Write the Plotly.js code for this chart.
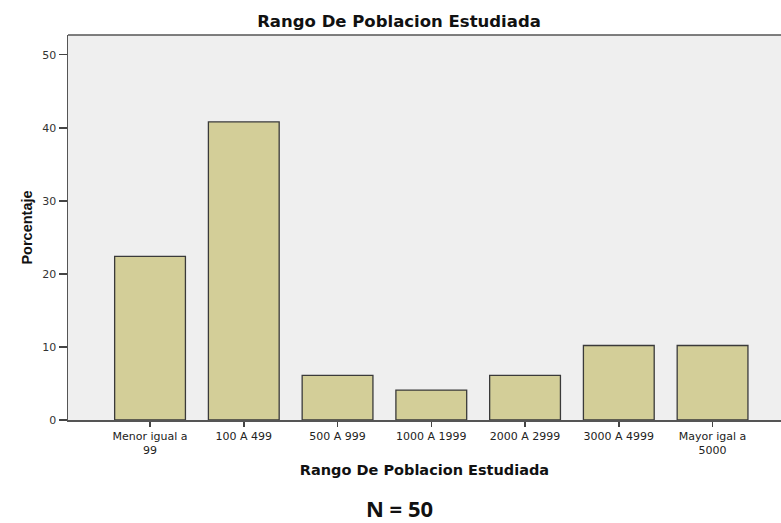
<!DOCTYPE html>
<html>
<head>
<meta charset="utf-8">
<script src="https://cdn.plot.ly/plotly-3.0.1.min.js"></script>
<style>html,body{margin:0;padding:0;background:#fff;}#chart{width:781px;height:523px;}</style>
</head>
<body>
<div id="chart"></div>
<script>
const categories = ["Menor igual a 99", "100 A 499", "500 A 999", "1000 A 1999", "2000 A 2999", "3000 A 4999", "Mayor igal a 5000"];
const tickLabels = ["Menor igual a<br>99", "100 A 499", "500 A 999", "1000 A 1999", "2000 A 2999", "3000 A 4999", "Mayor igal a<br>5000"];
const percentages = [22.4, 40.8, 6.1, 4.1, 6.1, 10.2, 10.2];
const yTicks = [0, 10, 20, 30, 40, 50];

const idx = categories.map((c, i) => i);

const trace = {
  type: "bar",
  x: idx,
  y: percentages,
  width: 0.755,
  marker: {color: "#d3ce98", line: {color: "#3a3a3a", width: 1.3}},
  hoverinfo: "x+y"
};

const layout = {
  width: 781, height: 523,
  margin: {l: 68, r: 0, t: 35, b: 103},
  paper_bgcolor: "#ffffff",
  plot_bgcolor: "#efefef",
  showlegend: false,
  title: {
    text: "<b>Rango De Poblacion Estudiada</b>",
    font: {family: "DejaVu Sans, sans-serif", size: 16.5, color: "#111"},
    x: (399 - 68) / 713, xanchor: "center", xref: "paper",
    y: 1 - 21.5/523, yanchor: "middle", yref: "container"
  },
  xaxis: {
    range: [-0.875, 6.73],
    tickmode: "array", tickvals: idx, ticktext: tickLabels,
    ticks: "outside", ticklen: 5, tickwidth: 1.5, tickcolor: "#444",
    showline: true, linecolor: "#555", linewidth: 1.5,
    showgrid: false, zeroline: false,
    tickfont: {family: "DejaVu Sans, sans-serif", size: 11, color: "#222"},
    title: {
      text: "<b>Rango De Poblacion Estudiada</b>",
      font: {family: "DejaVu Sans, sans-serif", size: 14.5, color: "#111"},
      standoff: 9
    },
    fixedrange: true
  },
  yaxis: {
    range: [0, 52.7],
    tickmode: "array", tickvals: yTicks,
    ticks: "outside", ticklen: 8, tickwidth: 1.5, tickcolor: "#444",
    showline: true, linecolor: "#555", linewidth: 1.5, mirror: false,
    showgrid: false, zeroline: false,
    tickfont: {family: "DejaVu Sans, sans-serif", size: 11, color: "#333"},
    title: {
      text: "<b>Porcentaje</b>",
      font: {family: "Liberation Sans Narrow, Liberation Sans, Arial Narrow, sans-serif", size: 14.5, color: "#111"},
      standoff: 6
    },
    fixedrange: true
  },
  shapes: [
    {type: "line", xref: "paper", yref: "paper", x0: 0, x1: 1, y0: 1, y1: 1, line: {color: "#555", width: 1.5}}
  ],
  annotations: [
    {
      text: "<b>N = 50</b>",
      xref: "paper", yref: "paper",
      x: (399 - 68) / 713, y: -(508 - 420) / 385,
      xanchor: "center", yanchor: "middle", showarrow: false,
      font: {family: "Noto Sans, Liberation Sans, sans-serif", size: 22, color: "#111"}
    }
  ]
};

Plotly.newPlot("chart", [trace], layout, {displayModeBar: false, staticPlot: true});
</script>
</body>
</html>
